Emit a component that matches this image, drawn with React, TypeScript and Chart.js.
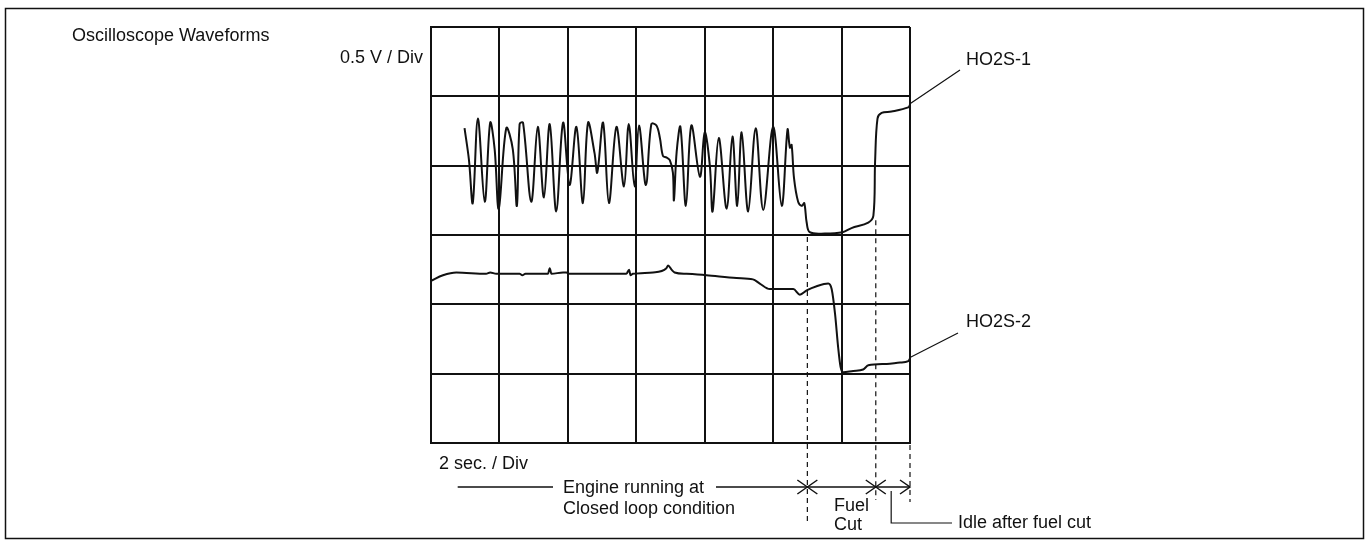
import React, { useEffect, useRef } from "react";
import Chart from "chart.js/auto";

// Time axis: seconds (2 sec / Div, 7 divisions); Voltage axis: volts (0.5 V / Div, 6 divisions)
const xTicks = [0, 2, 4, 6, 8, 10, 12, 14];
const yTicks = [0, 0.5, 1.0, 1.5, 2.0, 2.5, 3.0];

const ho2s1Time = [
  0.98, 1.11, 1.22, 1.37, 1.57, 1.73, 1.86, 1.98, 2.2, 2.39, 2.51, 2.59, 2.69, 2.93, 3.12, 3.3, 3.47, 3.66,
  3.86, 4.05, 4.25, 4.44, 4.59, 4.78, 4.86, 5.03, 5.2, 5.42, 5.64, 5.78, 5.95, 6.08, 6.28, 6.44, 6.59, 6.69,
  6.78, 6.88, 6.98, 7.07, 7.1, 7.18, 7.29, 7.45, 7.61, 7.86, 8.0, 8.15, 8.23, 8.41, 8.64, 8.81, 8.95, 9.08,
  9.27, 9.49, 9.71, 10.0, 10.25, 10.42, 10.49, 10.54, 10.61, 10.73, 10.84, 10.91, 10.98, 11.07, 11.51, 12.03,
  12.29, 12.78, 12.93, 12.98, 13.05, 13.17, 13.46, 13.95, 14.0,
];
const ho2s1Volt = [
  2.27, 2.04, 1.73, 2.34, 1.74, 2.31, 2.12, 1.69, 2.27, 2.12, 1.71, 2.3, 2.31, 1.74, 2.28, 1.77, 2.3, 1.67,
  2.31, 1.86, 2.28, 1.73, 2.31, 2.09, 1.95, 2.31, 1.73, 2.28, 1.85, 2.3, 1.85, 2.29, 1.86, 2.3, 2.29, 2.2,
  2.07, 2.06, 2.04, 1.95, 1.75, 2.1, 2.28, 1.71, 2.29, 1.92, 2.24, 2.0, 1.67, 2.2, 1.69, 2.21, 1.71, 2.24,
  1.67, 2.27, 1.68, 2.28, 1.71, 2.26, 2.13, 2.15, 1.91, 1.74, 1.71, 1.73, 1.59, 1.52, 1.51, 1.52,
  1.55, 1.59, 1.64, 2.03, 2.34, 2.38, 2.39, 2.42, 2.44,
];

const ho2s2Time = [
  0.0, 0.35, 0.74, 1.61, 1.73, 1.91, 2.59, 2.67, 2.76, 3.42, 3.47, 3.52, 3.86, 3.96, 4.02, 4.54, 5.71, 5.79,
  5.83, 5.9, 6.49, 6.88, 6.93, 7.03, 7.12, 7.47, 8.05, 8.93, 9.41, 9.61, 9.9, 10.39, 10.59, 10.78, 10.98,
  11.27, 11.61, 11.71, 11.81, 11.9, 11.97, 12.05, 12.34, 12.63, 12.78, 13.32, 13.71, 13.95, 14.0,
];
const ho2s2Volt = [
  1.17, 1.21, 1.23, 1.22, 1.23, 1.22, 1.22, 1.21, 1.22, 1.22, 1.26, 1.22, 1.23, 1.23, 1.22, 1.22, 1.22, 1.25,
  1.21, 1.22, 1.23, 1.26, 1.28, 1.25, 1.23, 1.22, 1.21, 1.19, 1.18, 1.15, 1.11, 1.11, 1.11, 1.07, 1.1,
  1.13, 1.15, 1.11, 0.93, 0.69, 0.55, 0.51, 0.52, 0.53, 0.56, 0.57, 0.58, 0.59, 0.61,
];

// Phase boundaries (seconds): start of fuel cut, start of idle, end of record
const phaseTimes = [11.0, 13.0, 14.0];
const idleMarkTime = 13.45;
const phaseArrowStart = 0.78;

const FONT = '18px "Liberation Sans", Arial, Helvetica, sans-serif';
const INK = "#111";

const annotate = {
  id: "annotate",
  afterDraw(chart: any) {
    const { ctx } = chart;
    const xs = chart.scales.x;
    const ys = chart.scales.y;
    ctx.save();
    ctx.strokeStyle = INK;
    ctx.fillStyle = INK;

    // outer frame
    ctx.lineWidth = 1.5;
    ctx.strokeRect(5.5, 8.5, 1358, 530);

    // texts
    ctx.font = FONT;
    ctx.textBaseline = "middle";
    ctx.textAlign = "left";
    ctx.fillText("Oscilloscope Waveforms", 72, 36);
    ctx.textAlign = "right";
    ctx.fillText("0.5 V / Div", 423, 58);
    ctx.textAlign = "left";
    ctx.fillText("HO2S-1", 966, 60);
    ctx.fillText("HO2S-2", 966, 322);
    ctx.fillText("2 sec. / Div", 439, 464);
    ctx.fillText("Engine running at", 563, 488);
    ctx.fillText("Closed loop condition", 563, 509);
    ctx.fillText("Fuel", 834, 506);
    ctx.fillText("Cut", 834, 525);
    ctx.fillText("Idle after fuel cut", 958, 523);

    // leader lines
    ctx.lineWidth = 1.2;
    const lastA = ho2s1Time.length - 1;
    const lastB = ho2s2Time.length - 1;
    ctx.beginPath();
    ctx.moveTo(xs.getPixelForValue(ho2s1Time[lastA]), ys.getPixelForValue(ho2s1Volt[lastA]) - 1);
    ctx.lineTo(960, 70);
    ctx.moveTo(xs.getPixelForValue(ho2s2Time[lastB]), ys.getPixelForValue(ho2s2Volt[lastB]) - 1);
    ctx.lineTo(958, 333);
    ctx.stroke();

    // dashed phase lines
    const px = phaseTimes.map((t) => xs.getPixelForValue(t));
    ctx.setLineDash([5, 4]);
    ctx.lineWidth = 1.2;
    ctx.beginPath();
    ctx.moveTo(px[0], ys.getPixelForValue(1.5) + 2);
    ctx.lineTo(px[0], 522);
    ctx.moveTo(px[1], ys.getPixelForValue(1.62) + 2);
    ctx.lineTo(px[1], 500);
    ctx.moveTo(px[2], ys.getPixelForValue(0) + 2);
    ctx.lineTo(px[2], 502);
    ctx.stroke();
    ctx.setLineDash([]);

    // phase arrow row
    const ay = 487;
    ctx.lineWidth = 1.5;
    ctx.beginPath();
    ctx.moveTo(xs.getPixelForValue(phaseArrowStart), ay);
    ctx.lineTo(553, ay);
    ctx.moveTo(716, ay);
    ctx.lineTo(px[2], ay);
    ctx.stroke();
    // X marks (meeting arrowheads)
    for (const x of [px[0], px[1]]) {
      ctx.beginPath();
      ctx.moveTo(x - 10, ay - 7);
      ctx.lineTo(x + 10, ay + 7);
      ctx.moveTo(x - 10, ay + 7);
      ctx.lineTo(x + 10, ay - 7);
      ctx.stroke();
    }
    // arrowhead at end
    ctx.beginPath();
    ctx.moveTo(px[2] - 10, ay - 7);
    ctx.lineTo(px[2], ay);
    ctx.lineTo(px[2] - 10, ay + 7);
    ctx.stroke();

    // idle bracket
    const ix = xs.getPixelForValue(idleMarkTime);
    ctx.lineWidth = 1.2;
    ctx.beginPath();
    ctx.moveTo(ix, ay + 4);
    ctx.lineTo(ix, 523);
    ctx.lineTo(952, 523);
    ctx.stroke();

    ctx.restore();
  },
};

export default function App() {
  const ref = useRef<HTMLCanvasElement>(null);
  useEffect(() => {
    if (!ref.current) return;
    const chart = new Chart(ref.current, {
      type: "scatter",
      data: {
        datasets: [
          {
            label: "HO2S-1",
            data: ho2s1Time.map((t, i) => ({ x: t, y: ho2s1Volt[i] })),
            showLine: true,
            borderColor: INK,
            borderWidth: 2,
            pointRadius: 0,
            tension: 0.35,
          },
          {
            label: "HO2S-2",
            data: ho2s2Time.map((t, i) => ({ x: t, y: ho2s2Volt[i] })),
            showLine: true,
            borderColor: INK,
            borderWidth: 2,
            pointRadius: 0,
            cubicInterpolationMode: "monotone",
          },
        ],
      },
      options: {
        responsive: false,
        animation: false,
        devicePixelRatio: 1,
        layout: { padding: { left: 431, top: 27, right: 459, bottom: 101 } },
        plugins: { legend: { display: false }, tooltip: { enabled: false }, title: { display: false } },
        scales: {
          x: {
            type: "linear",
            min: xTicks[0],
            max: xTicks[xTicks.length - 1],
            afterBuildTicks: (s: any) => {
              s.ticks = xTicks.map((v) => ({ value: v }));
            },
            afterFit: (s: any) => {
              s.height = 0;
            },
            ticks: { display: false },
            grid: { color: INK, lineWidth: 2, drawTicks: false },
            border: { display: true, color: INK, width: 2 },
          },
          y: {
            type: "linear",
            min: yTicks[0],
            max: yTicks[yTicks.length - 1],
            afterBuildTicks: (s: any) => {
              s.ticks = yTicks.map((v) => ({ value: v }));
            },
            afterFit: (s: any) => {
              s.width = 0;
            },
            ticks: { display: false },
            grid: { color: INK, lineWidth: 2, drawTicks: false },
            border: { display: true, color: INK, width: 2 },
          },
        },
      },
      plugins: [annotate],
    });
    return () => chart.destroy();
  }, []);
  return (
    <div style={{ position: "absolute", left: 0, top: 0, width: 1369, height: 544, background: "#fff" }}>
      <canvas ref={ref} width={1369} height={544} style={{ display: "block", width: 1369, height: 544 }} />
    </div>
  );
}
